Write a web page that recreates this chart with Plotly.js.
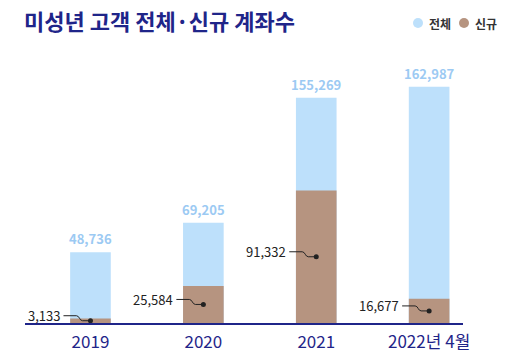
<!DOCTYPE html>
<html><head><meta charset="utf-8">
<script src="https://cdn.plot.ly/plotly-3.0.1.min.js"></script>
<style>html,body{margin:0;padding:0;background:#fff}#chart{width:510px;height:363px}</style>
</head><body><div id="chart"></div>
<script>
const categories = ['2019', '2020', '2021', '2022년 4월'];
const totalAccounts = [48736, 69205, 155269, 162987];
const newAccounts = [3133, 25584, 91332, 16677];
const totalLabels = ['48,736', '69,205', '155,269', '162,987'];
const newLabels = ['3,133', '25,584', '91,332', '16,677'];

const NAVY = '#1f2589';
const BLUE = '#bde0fb';
const BROWN = '#b69480';
const FONT = '"Noto Sans CJK KR", "Noto Sans", sans-serif';

const traces = [
  {type: 'bar', x: categories, y: totalAccounts, name: '전체', marker: {color: BLUE}, width: 0.36, hoverinfo: 'skip'},
  {type: 'bar', x: categories, y: newAccounts, name: '신규', marker: {color: BROWN}, width: 0.36, hoverinfo: 'skip'},
  {type: 'scatter', mode: 'markers', x: categories, y: newAccounts.map(v => v / 2),
   marker: {color: '#222', size: 5}, hoverinfo: 'skip', cliponaxis: false}
];

const annotations = [];
const shapes = [];
categories.forEach((c, i) => {
  annotations.push({x: i, y: totalAccounts[i], xref: 'x', yref: 'y', text: '<b>' + totalLabels[i] + '</b>',
    showarrow: false, yanchor: 'bottom', yshift: 2, font: {family: FONT, size: 13, color: '#9ccaf3'}});
  annotations.push({x: i, y: newAccounts[i] / 2, xref: 'x', yref: 'y', text: newLabels[i],
    showarrow: false, xanchor: 'right', xshift: -28, yshift: 5, font: {family: FONT, size: 13, color: '#222'}});
  shapes.push({type: 'path', xref: 'x', yref: 'y', xsizemode: 'pixel', ysizemode: 'pixel',
    xanchor: i, yanchor: newAccounts[i] / 2,
    path: 'M-27,5 L-14,5 C-11,5 -11,0 -8,0 L0,0', line: {color: '#222', width: 1}});
});

// legend (manual)
const L = 25, W = 438, T = 62, H = 363 - 62 - 40;
function px(x) { return (x - L) / W; }
function py(y) { return (363 - 40 - y) / H; }
shapes.push({type: 'circle', xref: 'paper', yref: 'paper', xsizemode: 'pixel', ysizemode: 'pixel',
  xanchor: px(418), yanchor: py(23), x0: -5, x1: 5, y0: -5, y1: 5, fillcolor: BLUE, line: {width: 0}});
shapes.push({type: 'circle', xref: 'paper', yref: 'paper', xsizemode: 'pixel', ysizemode: 'pixel',
  xanchor: px(464), yanchor: py(23), x0: -5, x1: 5, y0: -5, y1: 5, fillcolor: BROWN, line: {width: 0}});
annotations.push({x: px(427), y: py(23), xref: 'paper', yref: 'paper', text: '<b>전체</b>', showarrow: false,
  xanchor: 'left', yanchor: 'middle', font: {family: FONT, size: 12, color: '#333'}});
annotations.push({x: px(473), y: py(23), xref: 'paper', yref: 'paper', text: '<b>신규</b>', showarrow: false,
  xanchor: 'left', yanchor: 'middle', font: {family: FONT, size: 12, color: '#333'}});

const layout = {
  width: 510, height: 363,
  margin: {l: L, r: 510 - L - W, t: T, b: 40},
  paper_bgcolor: '#fff', plot_bgcolor: '#fff',
  barmode: 'overlay', showlegend: false,
  title: {text: '<b>미성년 고객 전체·신규 계좌수</b>', x: 24 / 510, xanchor: 'left', xref: 'container',
    y: 1 - 22 / 363, yref: 'container', yanchor: 'middle', font: {family: FONT, size: 22, color: NAVY, weight: 900}},
  xaxis: {type: 'category', range: [-0.58, 3.3], showgrid: false, zeroline: false,
    showline: true, linecolor: NAVY, linewidth: 2, ticks: 'outside', ticklen: 3, tickcolor: 'rgba(0,0,0,0)',
    tickfont: {family: FONT, size: 17, color: NAVY}, fixedrange: true},
  yaxis: {range: [0, 180000], visible: false, showgrid: false, zeroline: false, fixedrange: true},
  annotations: annotations, shapes: shapes
};

Plotly.newPlot('chart', traces, layout, {displayModeBar: false, staticPlot: true});
</script></body></html>
